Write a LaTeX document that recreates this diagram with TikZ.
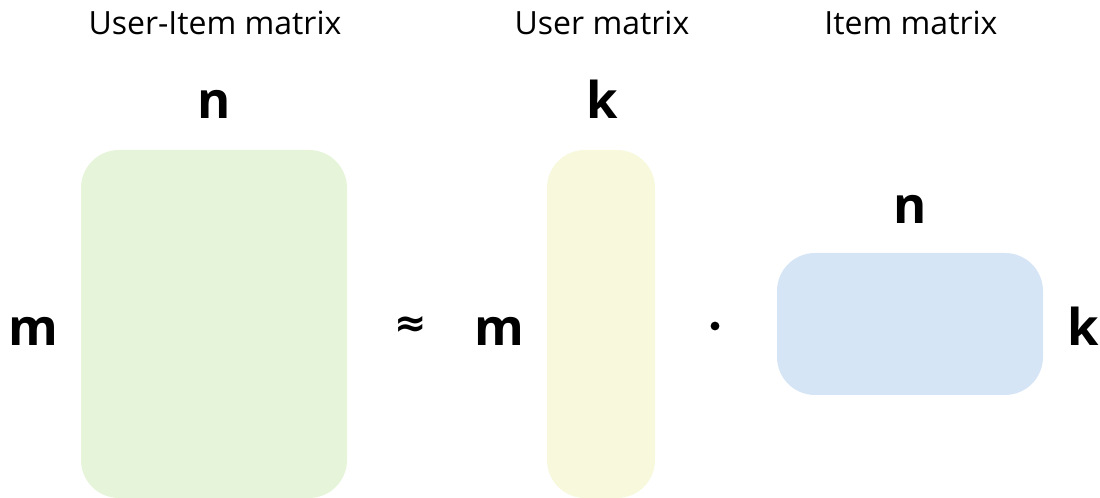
\documentclass[tikz,border=0pt]{standalone}
\usepackage{fontspec}
\setmainfont{Open Sans}
\newfontfamily\symfont{DejaVu Sans}
\definecolor{uimgreen}{HTML}{E6F5DA}
\definecolor{umyellow}{HTML}{F7F8DC}
\definecolor{imblue}{HTML}{D5E5F6}
\begin{document}
\begin{tikzpicture}[x=0.75pt,y=-0.75pt,
  matbox/.style={rounded corners=28.5pt,inner sep=0pt,draw=none},
  title/.style={anchor=base,inner sep=0pt,font=\fontsize{24}{28}\selectfont},
  dimlabel/.style={anchor=base,inner sep=0pt,font=\fontsize{38}{44}\selectfont\bfseries}]
\useasboundingbox (0,0) rectangle (1100,498);

% titles
\node[title] (t1) at (215,35) {User-Item matrix};
\node[title] (t2) at (602,35) {User matrix};
\node[title] (t3) at (911,35) {Item matrix};

% matrices
\node[matbox,fill=uimgreen,minimum width=266*0.75pt,minimum height=348*0.75pt] (R) at (214,324) {};
\node[matbox,fill=umyellow,minimum width=108*0.75pt,minimum height=348*0.75pt] (U) at (601,324) {};
\node[matbox,fill=imblue,minimum width=266*0.75pt,minimum height=142*0.75pt] (V) at (910,324) {};

% dimension labels
\node[dimlabel] (rn) at (214,119) {n};
\node[dimlabel] (rm) at (33,346) {m};
\node[dimlabel] (uk) at (602,119) {k};
\node[dimlabel] (um) at (499,346) {m};
\node[dimlabel] (vn) at (910,224) {n};
\node[dimlabel] (vk) at (1083,346) {k};

% operators
\node[anchor=center,inner sep=0pt,font=\symfont\bfseries\fontsize{29}{34}\selectfont] (approx) at (411,327) {≈};
\fill (715,326) circle (3.3pt);
\coordinate (dot) at (715,326);
\end{tikzpicture}
\end{document}
